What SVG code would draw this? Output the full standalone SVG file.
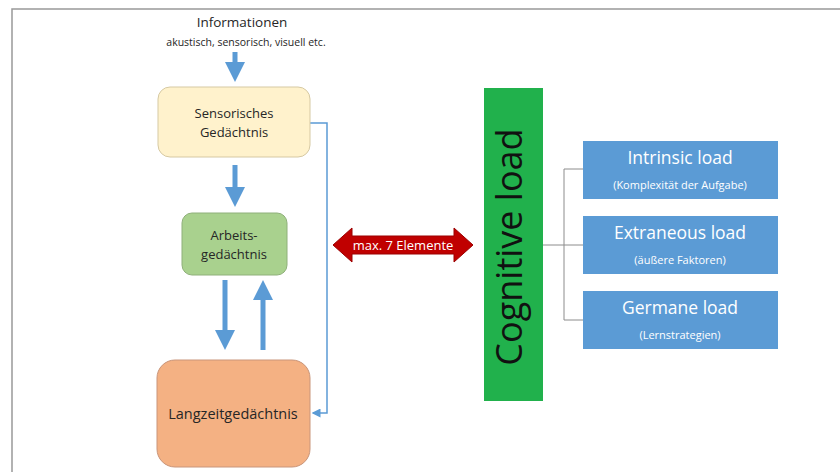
<svg xmlns="http://www.w3.org/2000/svg" width="840" height="473" viewBox="0 0 840 473">
<style>
.t{font-family:"Open Sans","Liberation Sans",sans-serif;text-anchor:middle}
.dark{fill:#262626}
.w{fill:#ffffff}
.fat{stroke:#5b9bd5;stroke-width:5;fill:none}
.thin{stroke:#5b9bd5;stroke-width:1.5;fill:none}
.tree{stroke:#8c8c8c;stroke-width:1;fill:none}
.blue{fill:#5b9bd5}
</style>
<defs>
<marker id="bh" markerWidth="4" markerHeight="4" refX="2" refY="2" orient="auto" markerUnits="strokeWidth">
<path d="M0,0 L4,2 L0,4 Z" fill="#5b9bd5"/>
</marker>
<marker id="sh" markerWidth="6" markerHeight="6" refX="5" refY="3" orient="auto" markerUnits="strokeWidth">
<path d="M0,0 L6,3 L0,6 Z" fill="#5b9bd5"/>
</marker>
</defs>
<rect width="840" height="473" fill="#ffffff"/>
<path d="M12,472 V9 H840" stroke="#999" stroke-width="1.5" fill="none"/>

<g id="info">
<text class="t dark" x="242" y="27" font-size="13.5">Informationen</text>
<text class="t dark" x="246" y="46" font-size="10.5">akustisch, sensorisch, visuell etc.</text>
</g>

<g id="connectors">
<path d="M235,52 V72" class="fat" marker-end="url(#bh)"/>
<path d="M235,165 V197" class="fat" marker-end="url(#bh)"/>
<path d="M225,280 V340" class="fat" marker-end="url(#bh)"/>
<path d="M263,350 V290" class="fat" marker-end="url(#bh)"/>
<path d="M310,123 H327 V413 H313" class="thin" marker-end="url(#sh)"/>
<path d="M543,245 H564 M564,169 V320 M564,169 H583 M564,245 H583 M564,320 H583" class="tree"/>
</g>

<g id="sensorisch">
<rect x="158" y="87" width="152" height="70" rx="12" fill="#fff2cc" stroke="#d6c9a3" stroke-width="1"/>
<text class="t dark" x="234" y="118" font-size="13">Sensorisches</text>
<text class="t dark" x="234" y="137" font-size="13">Gedächtnis</text>
</g>

<g id="arbeit">
<rect x="182" y="213" width="105" height="62" rx="10" fill="#a9d18e" stroke="#8fb07a" stroke-width="1"/>
<text class="t dark" x="234" y="240" font-size="13">Arbeits-</text>
<text class="t dark" x="234" y="259" font-size="13">gedächtnis</text>
</g>

<g id="langzeit">
<rect x="157" y="360" width="153" height="107" rx="18" fill="#f4b183" stroke="#c9957a" stroke-width="1"/>
<text class="t dark" x="233" y="419" font-size="14.5">Langzeitgedächtnis</text>
</g>

<g id="max7">
<path d="M333,245 L352,228 V236 H454 V228 L473,245 L454,262 V254 H352 V262 Z" fill="#c00000" stroke="#9b0000" stroke-width="1"/>
<text class="t w" x="403" y="250" font-size="13">max. 7 Elemente</text>
</g>

<g id="cognitive">
<rect x="484" y="88" width="59" height="313" fill="#21b14c"/>
<text class="t" fill="#111" x="0" y="0" font-size="36" transform="translate(522,247) rotate(-90)">Cognitive load</text>
</g>

<g id="intrinsic">
<rect x="583" y="141" width="195" height="58" class="blue"/>
<text class="t w" x="680" y="164" font-size="17.5">Intrinsic load</text>
<text class="t w" x="680" y="189" font-size="11">(Komplexität der Aufgabe)</text>
</g>

<g id="extraneous">
<rect x="583" y="216" width="195" height="58" class="blue"/>
<text class="t w" x="680" y="239" font-size="17.5">Extraneous load</text>
<text class="t w" x="680" y="264" font-size="11">(äußere Faktoren)</text>
</g>

<g id="germane">
<rect x="583" y="291" width="195" height="58" class="blue"/>
<text class="t w" x="680" y="314" font-size="17.5">Germane load</text>
<text class="t w" x="680" y="339" font-size="11">(Lernstrategien)</text>
</g>
</svg>
